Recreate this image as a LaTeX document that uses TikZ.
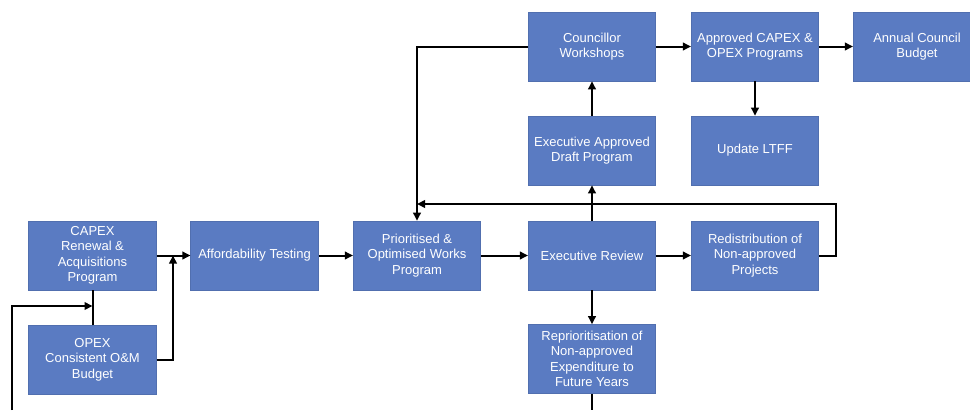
\documentclass[tikz,border=0pt]{standalone}
\usepackage{fontspec}
\setmainfont{Liberation Sans}
\usetikzlibrary{arrows.meta}
\definecolor{boxblue}{HTML}{5A7BC2}
\begin{document}
\begin{tikzpicture}[x=1pt,y=-1pt,
  stepbox/.style={fill=boxblue, draw=boxblue!90!black, line width=0.6pt,
    minimum width=127.5pt, minimum height=69pt, inner sep=0pt,
    align=center, text=white,
    font=\fontsize{13pt}{15.5pt}\selectfont},
  link/.style={draw=black, line width=2pt},
  arr/.style={link, -{Triangle[length=8pt,width=7.5pt]}}]
\useasboundingbox (0,0) rectangle (970,410);
\fill[white] (0,0) rectangle (970,410);
\begin{scope}
\clip (0,0) rectangle (970,410);
% main row
\node[stepbox] (capex)  at (92.5,255.5) {CAPEX\\Renewal \&\\Acquisitions\\Program};
\node[stepbox] (opex)   at (92.5,359.5) {OPEX\\Consistent O\&M\\Budget};
\node[stepbox] (afford) at (254.5,255.5) {Affordability Testing};
\node[stepbox] (prior)  at (417,255.5) {Prioritised \&\\Optimised Works\\Program};
\node[stepbox] (review) at (592,255.5) {Executive Review};
\node[stepbox] (redist) at (755,255.5) {Redistribution of\\Non-approved\\Projects};
\node[stepbox] (reprio) at (592,359) {Reprioritisation of\\Non-approved\\Expenditure to\\Future Years};
% upper rows
\node[stepbox] (execapp)  at (592,150.5) {Executive Approved\\Draft Program};
\node[stepbox] (council)  at (592,46.5) {Councillor\\Workshops};
\node[stepbox] (approved) at (755,46.5) {Approved CAPEX \&\\OPEX Programs};
\node[stepbox] (annual)   at (917,46.5) {Annual Council\\Budget};
\node[stepbox] (ltff)     at (755,150.5) {Update LTFF};

% junction and loop points
\coordinate (jin)   at (173,255.5);
\coordinate (fbin)  at (12,410);
\coordinate (fbend) at (92.5,306);
\coordinate (loopr) at (836,204);
\coordinate (loopl) at (417,204);
\coordinate (out)   at (592,410);

% connectors
\draw[arr] (capex) -- (afford);
\draw[arr] (opex.east) -| (jin);
\draw[link] (capex) -- (opex);
\draw[arr] (fbin) |- (fbend);
\draw[arr] (afford) -- (prior);
\draw[arr] (prior) -- (review);
\draw[arr] (review) -- (redist);
\draw[arr] (redist.east) -| (loopr) -- (loopl);
\draw[arr] (council.west) -| (prior.north);
\draw[arr] (review) -- (execapp);
\draw[arr] (execapp) -- (council);
\draw[arr] (council) -- (approved);
\draw[arr] (approved) -- (annual);
\draw[arr] (approved) -- (ltff);
\draw[arr] (review) -- (reprio);
\draw[link] (reprio.south) -- (out);
\end{scope}
\end{tikzpicture}
\end{document}
